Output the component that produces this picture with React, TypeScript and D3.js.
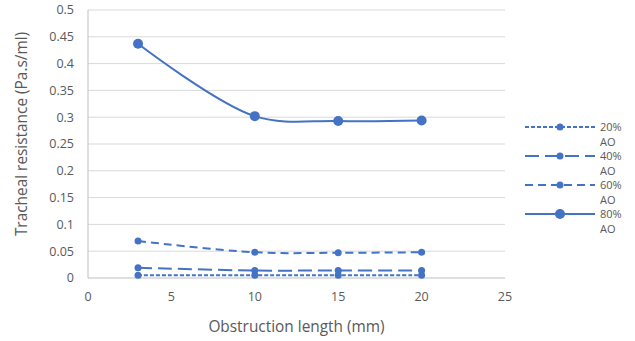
import { useEffect, useRef } from 'react';
import * as d3 from 'd3';

const lengths = [3, 10, 15, 20];
const seriesNames = ['20% AO', '40% AO', '60% AO', '80% AO'];
const ao20 = [0.005, 0.005, 0.005, 0.005];
const ao40 = [0.019, 0.014, 0.014, 0.014];
const ao60 = [0.069, 0.048, 0.047, 0.048];
const ao80 = [0.437, 0.302, 0.293, 0.294];
const xTicks = [0, 5, 10, 15, 20, 25];
const yTicks = [0, 0.05, 0.1, 0.15, 0.2, 0.25, 0.3, 0.35, 0.4, 0.45, 0.5];

const seriesValues = [ao20, ao40, ao60, ao80];
const dashes = ['4,2', '14,6', '8,5', null];
const markerR = [3.5, 3.5, 3.5, 5];

const width = 635;
const height = 341;

const App = () => {
  const svgRef = useRef<SVGSVGElement>(null);

  useEffect(() => {
    const root = d3.select(svgRef.current);
    root.selectAll('*').remove();

    const margin = { top: 10, right: 130, bottom: 63, left: 88 };
    const w = width - margin.left - margin.right;
    const h = height - margin.top - margin.bottom;
    const color = '#4472C4';
    const font = '"Open Sans", sans-serif';

    const x = d3.scaleLinear().domain([0, 25]).range([0, w]);
    const y = d3.scaleLinear().domain([0, 0.5]).range([h, 0]);

    const svg = root
      .append('g')
      .attr('transform', `translate(${margin.left},${margin.top})`);

    // grid lines
    svg.append('g')
      .selectAll('line')
      .data(yTicks.slice(1))
      .enter()
      .append('line')
      .attr('x1', 0)
      .attr('x2', w)
      .attr('y1', d => y(d))
      .attr('y2', d => y(d))
      .attr('stroke', '#d9d9d9')
      .attr('stroke-width', 1);

    // axes lines
    svg.append('line')
      .attr('x1', 0).attr('x2', w)
      .attr('y1', h).attr('y2', h)
      .attr('stroke', '#bfbfbf');
    svg.append('line')
      .attr('x1', 0).attr('x2', 0)
      .attr('y1', 0).attr('y2', h)
      .attr('stroke', '#bfbfbf');

    // tick labels
    svg.append('g')
      .selectAll('text')
      .data(yTicks)
      .enter()
      .append('text')
      .attr('x', -14)
      .attr('y', d => y(d))
      .attr('dy', '0.35em')
      .attr('text-anchor', 'end')
      .attr('font-family', font)
      .attr('font-size', 12.5)
      .attr('fill', '#595959')
      .text(d => String(d));

    svg.append('g')
      .selectAll('text')
      .data(xTicks)
      .enter()
      .append('text')
      .attr('x', d => x(d))
      .attr('y', h + 23)
      .attr('text-anchor', 'middle')
      .attr('font-family', font)
      .attr('font-size', 12.5)
      .attr('fill', '#595959')
      .text(d => String(d));

    // axis titles
    svg.append('text')
      .attr('x', w / 2)
      .attr('y', h + 54)
      .attr('text-anchor', 'middle')
      .attr('font-family', font)
      .attr('font-size', 15.4)
      .attr('fill', '#595959')
      .text('Obstruction length (mm)');

    svg.append('text')
      .attr('transform', `translate(${-61},${h / 2 - 10}) rotate(-90)`)
      .attr('text-anchor', 'middle')
      .attr('font-family', font)
      .attr('font-size', 15.4)
      .attr('fill', '#595959')
      .text('Tracheal resistance (Pa.s/ml)');

    const line = d3.line<number>()
      .x((_, i) => x(lengths[i]))
      .y(d => y(d))
      .curve(d3.curveCatmullRom.alpha(0.5));

    seriesValues.forEach((vals, si) => {
      const g = svg.append('g');
      g.append('path')
        .datum(vals)
        .attr('d', line)
        .attr('fill', 'none')
        .attr('stroke', color)
        .attr('stroke-width', 2)
        .attr('stroke-dasharray', dashes[si]);
      g.selectAll('circle')
        .data(vals)
        .enter()
        .append('circle')
        .attr('cx', (_, i) => x(lengths[i]))
        .attr('cy', d => y(d))
        .attr('r', markerR[si])
        .attr('fill', color);
    });

    // legend
    const legend = root.append('g').attr('transform', 'translate(525,127)');
    seriesNames.forEach((name, i) => {
      const gy = i * 29;
      const item = legend.append('g').attr('transform', `translate(0,${gy})`);
      item.append('line')
        .attr('x1', 0).attr('x2', 70)
        .attr('y1', 0).attr('y2', 0)
        .attr('stroke', color)
        .attr('stroke-width', 2)
        .attr('stroke-dasharray', dashes[i]);
      item.append('circle')
        .attr('cx', 35).attr('cy', 0)
        .attr('r', markerR[i])
        .attr('fill', color);
      const parts = name.split(' ');
      const t = item.append('text')
        .attr('x', 75)
        .attr('y', 0)
        .attr('font-family', font)
        .attr('font-size', 11)
        .attr('fill', '#595959');
      parts.forEach((p, j) => {
        t.append('tspan')
          .attr('x', 75)
          .attr('dy', j === 0 ? '0.35em' : '1.4em')
          .text(p);
      });
    });
  }, []);

  return (
    <svg
      ref={svgRef}
      width={width}
      height={height}
      style={{ position: 'absolute', left: 0, top: 0, background: '#fff' }}
    />
  );
};

export default App;
